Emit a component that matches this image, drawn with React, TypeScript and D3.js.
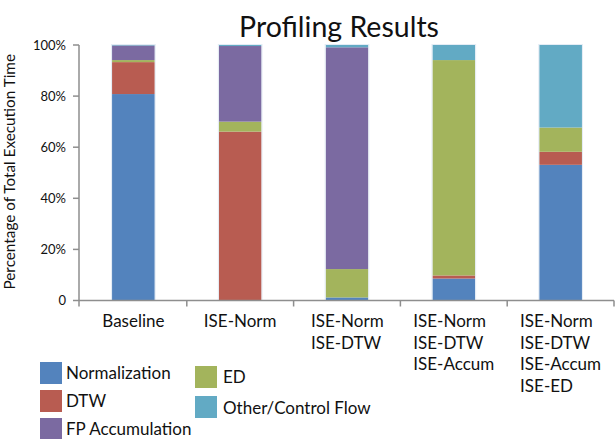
import React from "react";
import * as d3 from "d3";

const categories = ["Baseline", "ISE-Norm", "ISE-Norm|ISE-DTW", "ISE-Norm|ISE-DTW|ISE-Accum", "ISE-Norm|ISE-DTW|ISE-Accum|ISE-ED"];
const seriesNames = ["Normalization", "DTW", "ED", "FP Accumulation", "Other/Control Flow"];
const normalization = [80.8, 0, 1.2, 8.6, 53.1];
const dtw = [12.5, 66.1, 0, 1.2, 5.1];
const ed = [0.8, 3.9, 11.1, 84.3, 9.5];
const fpAccum = [5.7, 29.6, 86.8, 0, 0];
const other = [0.2, 0.4, 0.9, 5.9, 32.3];
const colors = ["#5383BD", "#B85C51", "#A3B45C", "#7B6AA1", "#62AAC4"];
const yTicks = [0, 20, 40, 60, 80, 100];
const yTickLabels = ["0", "20%", "40%", "60%", "80%", "100%"];
const legendCol1 = ["Normalization", "DTW", "FP Accumulation"];
const legendCol2 = ["ED", "Other/Control Flow"];

const FONT = "Lato, 'DejaVu Sans', sans-serif";

export default function App() {
  const W = 615, H = 439;
  const x0 = 80, x1 = 614, yTop = 45, yBot = 300.5;
  const x = d3.scaleBand<string>().domain(categories).range([x0, x1]).paddingInner(0.6).paddingOuter(0.3);
  const y = d3.scaleLinear().domain([0, 100]).range([yBot, yTop]);
  const seriesData = [normalization, dtw, ed, fpAccum, other];
  const rows = categories.map((c, i) => {
    const r: any = { cat: c };
    seriesNames.forEach((s, j) => (r[s] = seriesData[j][i]));
    return r;
  });
  const stacked = d3.stack<any>().keys(seriesNames)(rows);
  const step = x.step();
  const axisColor = "#8E8E8E";

  return (
    <svg width={W} height={H} style={{ position: "absolute", left: 0, top: 0 }}>
      <rect width={W} height={H} fill="#fff" />
      <text x={339} y={37} textAnchor="middle" fontFamily={FONT} fontSize={28.5} fill="#111">
        Profiling Results
      </text>
      <text
        transform={`translate(15,${(yTop + yBot) / 2 - 1}) rotate(-90)`}
        textAnchor="middle"
        fontFamily={FONT}
        fontSize={15.3}
        fill="#111"
      >
        Percentage of Total Execution Time
      </text>
      {stacked.map((s, j) =>
        s.map((d, i) => {
          const h = y(d[0]) - y(d[1]);
          if (h <= 0) return null;
          return (
            <rect
              key={`${j}-${i}`}
              x={x(categories[i])}
              y={y(d[1])}
              width={x.bandwidth()}
              height={h}
              fill={colors[j]}
            />
          );
        })
      )}
      {categories.map((c, i) => (
        <rect
          key={"o" + i}
          x={(x(c) as number) - 0.5}
          y={y(100) - 0.5}
          width={x.bandwidth() + 1}
          height={yBot - y(100) + 0.5}
          fill="none"
          stroke="#E4ECF5"
          strokeWidth={1}
        />
      ))}
      {/* axes */}
      <line x1={x0 - 1} x2={x0 - 1} y1={yTop} y2={yBot + 6} stroke={axisColor} strokeWidth={1.5} />
      <line x1={x0 - 1} x2={x1} y1={yBot} y2={yBot} stroke={axisColor} strokeWidth={1.5} />
      {yTicks.map((t, i) => (
        <g key={"yt" + i}>
          <line x1={x0 - 7} x2={x0 - 1} y1={y(t)} y2={y(t)} stroke={axisColor} strokeWidth={1.5} />
          <text x={66} y={y(t) + 4.5} textAnchor="end" fontFamily={FONT} fontSize={13} fill="#111">
            {yTickLabels[i]}
          </text>
        </g>
      ))}
      {categories.map((c, i) => (
        <line
          key={"xt" + i}
          x1={x0 + step * (i + 1)}
          x2={x0 + step * (i + 1)}
          y1={yBot}
          y2={yBot + 6}
          stroke={axisColor}
          strokeWidth={1.5}
        />
      ))}
      {categories.map((c, i) => {
        const lines = c.split("|");
        const cx = (x(c) as number) + x.bandwidth() / 2;
        const maxLen = Math.max(...lines.map((l) => l.length));
        const widest = lines.find((l) => l.length === maxLen) as string;
        const estW = widest.length * 9;
        const left = cx - estW / 2;
        return (
          <g key={"xl" + i}>
            {lines.map((l, k) => (
              <text
                key={k}
                x={lines.length > 1 ? left : cx}
                y={327 + k * 21.5}
                textAnchor={lines.length > 1 ? "start" : "middle"}
                fontFamily={FONT}
                fontSize={17}
                fill="#111"
              >
                {l}
              </text>
            ))}
          </g>
        );
      })}
      {/* legend */}
      {legendCol1.map((n, k) => (
        <g key={"l1" + k}>
          <rect x={40} y={362 + k * 28} width={22} height={22} fill={colors[seriesNames.indexOf(n)]} />
          <text x={66} y={379 + k * 28} fontFamily={FONT} fontSize={17} fill="#111">
            {n}
          </text>
        </g>
      ))}
      {legendCol2.map((n, k) => (
        <g key={"l2" + k}>
          <rect x={195} y={366 + k * 30} width={22} height={22} fill={colors[seriesNames.indexOf(n)]} />
          <text x={223} y={383 + k * 31} fontFamily={FONT} fontSize={17} fill="#111">
            {n}
          </text>
        </g>
      ))}
    </svg>
  );
}
